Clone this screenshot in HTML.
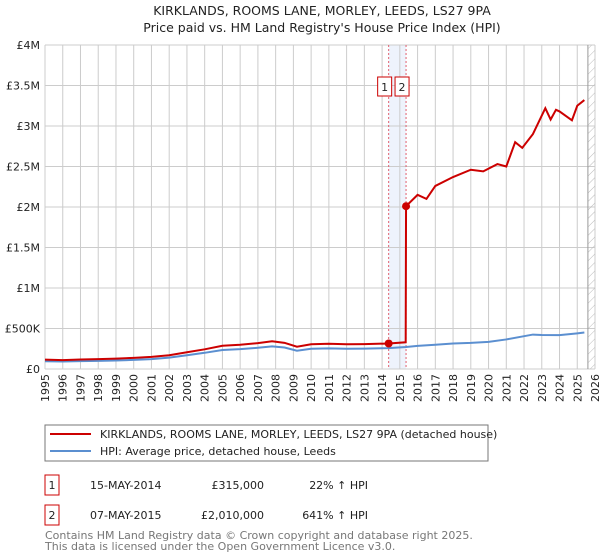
<!DOCTYPE html>
<html><head><meta charset="utf-8"><style>
body{margin:0;background:#fff;}
svg{display:block;font-family:"DejaVu Sans","Liberation Sans",sans-serif;}
</style></head><body>
<svg id="c" width="600" height="560" viewBox="0 0 600 560">
<text x="322" y="15" text-anchor="middle" font-size="12.5" fill="#222">KIRKLANDS, ROOMS LANE, MORLEY, LEEDS, LS27 9PA</text>
<text x="322" y="32" text-anchor="middle" font-size="12.5" fill="#222">Price paid vs. HM Land Registry's House Price Index (HPI)</text>
<g id="grid"></g>
<g id="marks"></g>
<rect x="45" y="425" width="443" height="36" fill="none" stroke="#777"/>
<line x1="50" y1="434" x2="91" y2="434" stroke="#cc0000" stroke-width="2"/>
<text x="100" y="438" font-size="11" fill="#222">KIRKLANDS, ROOMS LANE, MORLEY, LEEDS, LS27 9PA (detached house)</text>
<line x1="50" y1="451" x2="91" y2="451" stroke="#5b8fd0" stroke-width="2"/>
<text x="100" y="455" font-size="11" fill="#222">HPI: Average price, detached house, Leeds</text>
<g>
<rect x="45" y="475" width="14" height="20" fill="none" stroke="#cc0000"/>
<text x="52" y="489" text-anchor="middle" font-size="11" fill="#222">1</text>
<text x="90" y="489" font-size="11" fill="#222">15-MAY-2014</text>
<text x="264" y="489" text-anchor="end" font-size="11" fill="#222">£315,000</text>
<text x="368" y="489" text-anchor="end" font-size="11" fill="#222">22% ↑ HPI</text>
</g>
<g>
<rect x="45" y="505" width="14" height="20" fill="none" stroke="#cc0000"/>
<text x="52" y="519" text-anchor="middle" font-size="11" fill="#222">2</text>
<text x="90" y="519" font-size="11" fill="#222">07-MAY-2015</text>
<text x="264" y="519" text-anchor="end" font-size="11" fill="#222">£2,010,000</text>
<text x="368" y="519" text-anchor="end" font-size="11" fill="#222">641% ↑ HPI</text>
</g>
<text x="45" y="539" font-size="11" fill="#777">Contains HM Land Registry data © Crown copyright and database right 2025.</text>
<text x="45" y="550" font-size="11" fill="#777">This data is licensed under the Open Government Licence v3.0.</text>
</svg>
<script>
const yTicks=[0,500000,1000000,1500000,2000000,2500000,3000000,3500000,4000000];
const yTickLabels=["£0","£500K","£1M","£1.5M","£2M","£2.5M","£3M","£3.5M","£4M"];
const hpiYears=[1995,1996,1997,1998,1999,2000,2001,2002,2003,2004,2005,2006,2007,2007.8,2008.5,2009.2,2010,2011,2012,2013,2014.37,2015.35,2016,2017,2018,2019,2020,2021,2022,2022.5,2023,2024,2025,2025.4];
const hpiValues=[95000,92000,97000,100000,105000,112000,122000,140000,170000,200000,235000,245000,262000,280000,265000,225000,250000,255000,250000,252000,258000,271000,285000,300000,315000,322000,335000,365000,405000,425000,420000,418000,440000,450000];
const redYears=[1995,1996,1997,1998,1999,2000,2001,2002,2003,2004,2005,2006,2007,2007.8,2008.5,2009.2,2010,2011,2012,2013,2014.37,2015.33,2015.35,2016,2016.5,2017,2018,2019,2019.7,2020.5,2021,2021.5,2021.9,2022.5,2023.2,2023.5,2023.8,2024,2024.7,2025,2025.4];
const redValues=[115000,110000,118000,122000,128000,137000,149000,170000,207000,243000,287000,299000,320000,342000,323000,275000,305000,311000,305000,307000,315000,330000,2010000,2150000,2100000,2260000,2370000,2460000,2440000,2530000,2500000,2800000,2730000,2900000,3220000,3080000,3200000,3180000,3070000,3250000,3320000];
const sales=[{n:"1",year:2014.37,value:315000},{n:"2",year:2015.35,value:2010000}];
const xStart=1995,xEnd=2026;
const X=y=>45+(y-xStart)/(xEnd-xStart)*550;
const Y=v=>369-v/4000000*324;
const NS="http://www.w3.org/2000/svg";
function mk(p,t,a){const e=document.createElementNS(NS,t);for(const k in a)e.setAttribute(k,a[k]);p.appendChild(e);return e;}
const grid=document.getElementById('grid'),marks=document.getElementById('marks');
const band=mk(grid,'rect',{x:X(sales[0].year),y:45,width:X(sales[1].year)-X(sales[0].year),height:324,fill:'#eef3fc'});


for(let yr=xStart;yr<=xEnd;yr++){
  const l=mk(grid,'line',{x1:X(yr),x2:X(yr),y1:45,y2:369,stroke:'#ccc'});
  
  
  const t=mk(grid,'text',{transform:`translate(${X(yr)+4},374) rotate(-90)`,'text-anchor':'end','font-size':'11',fill:'#222'});
  t.textContent=yr;
  
  
}
yTicks.forEach((v,i)=>{
  const l=mk(grid,'line',{x1:45,x2:595,y1:Y(v),y2:Y(v),stroke:'#ccc'});
  
  
  const t=mk(grid,'text',{x:40,y:Y(v)+4,'text-anchor':'end','font-size':'11',fill:'#222'});
  t.textContent=yTickLabels[i];
  
  
});
const defs=mk(grid,'defs',{});
const pat=mk(defs,'pattern',{id:'h',width:6,height:6,patternUnits:'userSpaceOnUse',patternTransform:'rotate(45)'});
mk(pat,'line',{x1:0,y1:0,x2:0,y2:6,stroke:'#bbb','stroke-width':1});
const hx=X(2025.6);
const hatch=mk(grid,'rect',{x:hx,y:45,width:595-hx,height:324,fill:'url(#h)'});


mk(grid,'line',{x1:hx,x2:hx,y1:45,y2:369,stroke:'#999'});
sales.forEach(s=>{
  const l=mk(grid,'line',{x1:X(s.year),x2:X(s.year),y1:45,y2:369,stroke:'#e06070','stroke-dasharray':'2,2'});
  
  
  const bx=X(s.year)-11;
  const r=mk(grid,'rect',{x:bx,y:77,width:14,height:19,fill:'#fff',stroke:'#cc0000'});
  
  
  const t=mk(grid,'text',{x:bx+7,y:91,'text-anchor':'middle','font-size':'11',fill:'#222'});
  t.textContent=s.n;
  
  
});
const hp=mk(marks,'polyline',{points:hpiYears.map((y,i)=>X(y)+','+Y(hpiValues[i])).join(' '),fill:'none',stroke:'#5b8fd0','stroke-width':2});


const rp=mk(marks,'polyline',{points:redYears.map((y,i)=>X(y)+','+Y(redValues[i])).join(' '),fill:'none',stroke:'#cc0000','stroke-width':2});


sales.forEach(s=>{
  const c=mk(marks,'circle',{cx:X(s.year),cy:Y(s.value),r:4,fill:'#cc0000'});
  
  
});
</script>
</body></html>
